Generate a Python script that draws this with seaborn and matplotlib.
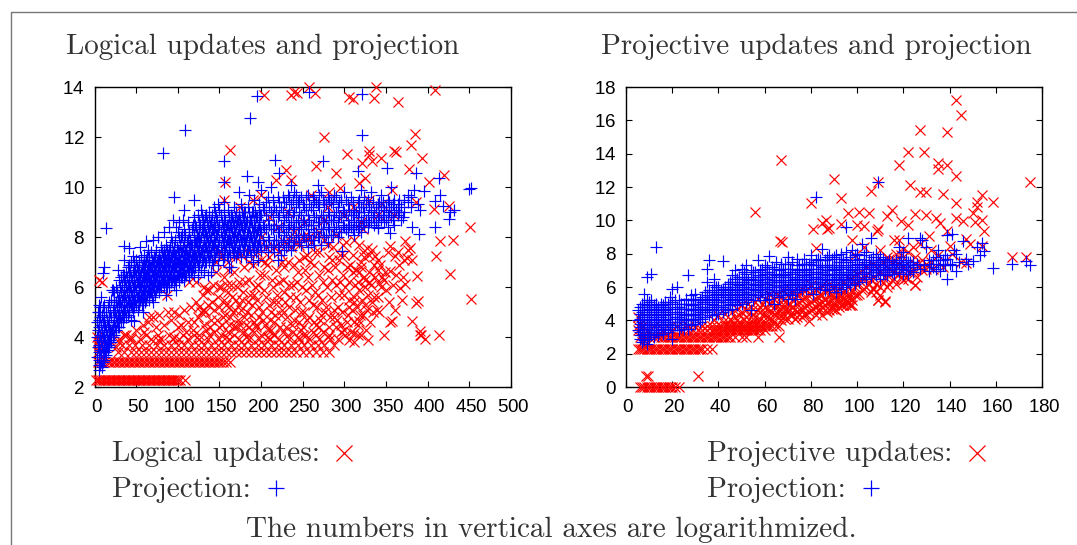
import seaborn as sns
import numpy as np
import pandas as pd
import matplotlib.pyplot as plt
from matplotlib.lines import Line2D
from matplotlib.transforms import ScaledTranslation

# update counts are multiples of ten, so the low red marks sit on rows (log of the count)
logical_row_230 = [2,4,6,8,10,12,14,16,18,20,22,24,26,28,30,32,34,36,38,40,42,44,46,48,50,52,54,56,58,60,62,64,66,68,70,72,74,76,78,80,82,84,86,88,90,92,94,96,98,100,103,109]
logical_row_300 = [4,8,12,16,19,22,25,28,31,34,37,40,43,46,49,52,55,58,61,64,67,70,73,76,79,82,85,88,91,94,97,100,103,106,109,112,115,118,121,124,127,130,133,136,139,142,145,148,151,154,158,163]
logical_row_340 = [4,28,36,44,50,56,62,68,74,80,86,92,98,104,110,116,122,128,134,140,146,152,158,164,170,176,182,188,194,200,206,212,218,224,230,236,242,250,258,266,274,281]
logical_row_369 = [5,33,41,49,57,66,75,84,92,100,108,116,124,132,140,148,156,164,172,180,188,196,204,212,220,228,236,244,252,260,268,276,287]
logical_row_391 = [6,30,44,55,68,80,94,102,112,125,136,150,162,174,186,198,210,222,234,246,258,270,283,292]
logical_row_409 = [38,62,76,90,106,120,138,152,168,184,200,216,232,250,266,282,301,348,391,413]

logical_cloud = [(50,4.3),(58,4.5),(64,4.6),(70,4.8),(74,4.4),(78,4.9),(84,4.5),(88,5.0),(92,4.7),(96,5.0),(102,4.9),(108,5.1),
    (100,4.4),(112,4.6),(116,5.2),(118,4.3),(122,5.4),(124,4.8),(128,5.0),(130,5.7),(132,4.5),(136,5.3),(138,5.9),(140,4.7),
    (142,6.1),(144,5.1),(148,5.6),(150,4.4),(152,6.0),(154,4.8),(156,6.4),(158,5.3),(160,5.8),(162,4.5),(164,6.1),(166,5.0),
    (168,6.6),(170,5.5),(172,4.7),(174,6.2),(176,5.1),(178,5.8),(180,6.8),(182,4.5),(184,5.4),(186,6.3),(188,4.9),(190,6.9),
    (192,5.7),(194,4.4),(196,6.1),(198,5.2),(200,7.1),(202,4.7),(204,6.5),(206,5.6),(208,4.3),(210,7.2),(212,5.0),(214,6.0),
    (216,4.6),(218,6.7),(220,5.4),(222,7.4),(224,4.9),(226,6.3),(228,5.8),(230,4.4),(232,7.0),(234,5.2),(236,7.6),(238,6.1),
    (240,4.7),(242,5.6),(244,6.6),(246,7.7),(248,5.0),(250,4.4),(252,7.2),(254,5.9),(256,6.4),(258,4.8),(260,7.8),(262,5.3),
    (264,6.9),(266,4.5),(268,5.7),(270,7.4),(272,4.9),(274,6.2),(276,7.9),(278,5.2),(280,6.7),(282,4.4),(284,5.6),(286,7.6),
    (288,4.8),(290,6.1),(292,5.2),(294,7.1),(296,4.5),(298,6.5),(300,5.7),(302,7.8),(304,4.9),(306,6.2),(308,4.2),(310,7.3),
    (312,5.4),(314,6.7),(316,4.5),(318,5.9),(320,7.0),(322,4.9),(324,6.4),(326,4.3),(328,5.7),(330,7.3),(332,6.1),(334,5.0),
    (76,3.9),(96,4.0),(110,4.2),(126,4.1),(144,4.2),(160,4.2),(178,4.2),(192,4.2),(208,4.0),(226,4.2),(244,4.0),(262,4.2),(280,4.0),(296,4.2),
    (104,4.5),(134,4.3),(170,4.4),(194,4.5),(212,4.3),(248,4.3),(270,4.4),(290,4.4),(305,3.9),(312,3.8),(320,4.1),(328,3.9),
    (205,7.0),(225,7.0),(245,7.1),(255,7.3),(265,7.4),(285,7.1),(295,7.3),(303,6.8),(310,6.6),(325,6.0),(335,5.6),(340,6.7),(345,6.4),(350,5.9),
    (150,6.0),(146,7.0),(151,7.2),(160,7.0),(170,7.2),(185,7.0),(195,7.4),(215,7.6),(235,7.9),(250,8.0),(270,8.2),(290,8.1),(312,7.9),(322,8.3),
    (122,6.2),(131,5.1),(160,6.7),(185,7.4),(200,8.0),(220,8.4),(240,8.2),(210,8.8),(232,9.0),(252,8.6),(275,8.7),(300,8.9),(320,8.6),(340,8.9),(360,8.9),(345,9.3),(330,9.5),(310,9.2),
    (155,9.5),(157,10.2),(163,11.5),(203,13.7),(236,13.7),(240,13.8),(218,10.3),(230,10.7),(236,10.3),(175,9.2),(190,9.5),(200,9.7),(260,9.7),(282,9.8),(280,9.2),
    (65,4.8),(87,5.7),(113,6.2),(131,6.0),(134,5.9),(146,6.6),(6,6.3),(9,6.2),(3,4.0),(4,3.8),(5,3.6),(30,3.8),(36,4.1),(26,3.6),(44,4.0),(60,4.2),
    (258,13.99),(265,13.76),(338,14.0),(409,13.89),(306,13.59),(310,13.53),(336,13.56),(364,13.4),(243,13.76),(276,12.0),(385,12.13),(380,11.7),(303,11.33),
    (330,11.45),(330,11.3),(359,11.45),(362,11.4),(344,11.16),(393,11.16),(333,11.03),(321,10.96),(266,10.83),(377,10.73),(290,10.56),(419,10.49),(325,10.36),
    (317,10.16),(401,10.2),(295,9.96),(357,9.9),(386,9.39),(408,9.12),(426,9.23),(451,8.41),(415,7.83),(430,7.87),(410,7.24),(427,6.53),(452,5.53),(387,6.43),
    (341,6.16),(373,6.13),(367,5.96),(340,5.6),(388,5.43),(386,5.36),(369,5.49),(361,5.09),(342,5.0),(381,4.63),(355,4.6),(357,4.65),(391,4.23),(392,4.09),
    (397,3.92),(325,5.27),(318,4.63),(311,4.16),(373,7.83),(355,7.63),(379,7.56),(361,7.23),(375,7.16),(381,7.09),(317,7.69),(327,7.56),(337,7.23),(343,6.89),
    (355,6.63),(333,7.5),(340,7.1),(347,6.3),(352,7.4),(376,7.5),(371,7.1),(322,7.4),(335,6.9),(330,6.6),(325,6.3),(320,6.8),(316,6.2),(312,5.6),(306,5.2)]

# second pass over the dense parts of the red cloud
logical_cloud_more = [(120,4.6),(126,5.2),(133,5.0),(139,4.4),(141,5.4),(147,4.7),(149,5.2),(153,4.5),(155,5.5),(157,4.9),(159,6.1),(161,5.2),(163,4.8),(165,5.6),(167,4.4),(169,5.1),(171,6.0),
    (173,5.3),(175,4.5),(177,5.5),(179,4.8),(181,6.2),(183,5.0),(185,4.4),(187,5.7),(189,5.3),(191,4.6),(193,6.0),(195,5.5),(197,4.8),(199,6.5),(201,5.0),(203,5.9),(205,4.5),(207,6.9),(209,5.3),
    (211,4.7),(213,6.3),(215,5.4),(217,4.9),(219,5.7),(221,6.2),(223,4.4),(225,5.1),(227,6.8),(229,5.4),(231,4.8),(233,6.1),(235,5.6),(237,4.5),(239,6.9),(241,5.1),(243,6.2),(245,4.6),(247,5.4),
    (249,6.0),(251,5.0),(253,6.7),(255,4.7),(257,5.5),(259,7.0),(261,6.1),(263,4.6),(265,5.8),(267,5.2),(269,6.5),(271,4.7),(273,5.5),(275,6.8),(277,5.0),(279,6.0),(281,7.2),(283,4.8),(285,6.3),
    (287,5.1),(289,6.8),(291,4.7),(293,5.7),(295,6.2),(297,5.0),(299,7.3),(301,6.0),(303,4.6),(305,5.5),(307,6.9),(309,5.1),(311,4.6),(313,6.1),(315,5.2),(317,6.6),(319,4.9),(321,5.5),(323,7.2),
    (327,5.1),(329,6.2),(331,4.6),(333,5.4),(337,6.4),(339,5.1),(344,6.0),(349,6.6),(353,5.4),(358,6.1),(362,6.5),(366,6.9),(370,6.4),(364,7.4),(158,4.0),(182,4.0),(216,4.1),(238,4.2),(254,4.1),(274,4.2),(300,4.3),(316,4.1),(150,7.4),(176,7.3),(206,7.6),(228,7.8),(244,7.8),(258,8.0),(280,7.7),(298,7.7)]

logical_proj = [(3,3.2),(3,4.0),(3,4.6),(4,3.6),(4,4.3),(4,5.0),(5,2.9),(5,3.4),(5,3.9),(5,4.7),(5,5.3),(6,2.7),(6,3.1),(6,3.7),(6,4.4),(6,5.0),
    (7,2.9),(7,3.5),(7,4.1),(7,4.8),(7,5.2),(8,3.0),(8,3.3),(8,3.9),(8,4.5),(8,5.6),(9,2.8),(9,3.6),(9,4.2),(9,4.9),(10,3.0),(10,3.4),(10,4.0),(10,4.6),(10,5.2),
    (11,3.2),(11,3.8),(11,4.4),(12,3.1),(12,3.5),(12,4.1),(12,4.8),(12,5.3),(13,3.4),(13,3.9),(13,4.5),(14,3.3),(14,3.7),(14,4.3),(14,5.0),(15,3.6),(15,4.1),(15,4.7),
    (16,3.5),(16,3.9),(16,4.5),(16,5.2),(17,3.7),(17,4.2),(17,4.8),(18,3.6),(18,4.0),(18,4.6),(18,5.4),(19,3.9),(19,4.3),(19,5.0),(20,3.8),(20,4.2),(20,4.8),(20,5.5),
    (21,5.9),(22,4.0),(22,4.5),(22,5.1),(22,5.9),(24,4.1),(24,4.6),(24,5.3),(24,5.8),(26,4.3),(26,4.8),(26,5.4),(26,6.0),(28,4.4),(28,4.9),(28,5.5),(28,6.7),(30,4.4),
    (30,5.0),(30,5.6),(30,6.3),(32,4.6),(32,5.2),(32,5.8),(32,6.4),(34,4.6),(34,5.1),(34,5.7),(34,6.5),(35,7.1),(36,4.8),(36,5.3),(36,5.9),(36,6.5),(36,7.65),(38,4.8),
    (38,5.4),(38,6.0),(38,6.6),(40,4.9),(40,5.5),(40,6.1),(40,6.8),(41,7.55),(42,5.1),(42,5.6),(42,6.2),(42,6.9),(44,4.7),(44,5.3),(44,5.8),(44,6.4),(44,7.0),(46,5.0),
    (46,5.5),(46,6.0),(46,6.6),(46,7.25),(48,4.65),(48,5.2),(48,5.7),(48,6.3),(48,6.9),(50,5.3),(50,5.9),(50,6.5),(50,7.1),(52,5.1),(52,5.6),(52,6.2),(52,6.7),(54,5.4),
    (54,5.9),(54,6.4),(54,7.0),(55,7.6),(56,5.6),(56,6.1),(56,6.6),(56,7.2),(58,5.0),(58,5.4),(58,5.9),(58,6.4),(58,6.9),(60,5.7),(60,6.2),(60,6.7),(60,7.3),(62,5.5),
    (62,6.0),(62,6.5),(62,7.1),(62,7.85),(64,5.9),(64,6.4),(64,6.9),(64,7.5),(66,5.6),(66,6.1),(66,6.6),(66,7.2),(68,5.8),(68,6.3),(68,6.8),(68,7.4),(70,5.4),(70,6.0),
    (70,6.5),(70,7.0),(70,7.9),(72,6.2),(72,6.7),(72,7.2),(74,5.9),(74,6.4),(74,6.9),(74,7.5),(76,6.1),(76,6.6),(76,7.1),(76,8.0),(78,5.9),(78,6.3),(78,6.8),(78,7.3),
    (80,6.0),(80,6.5),(80,7.0),(80,7.6),(82,6.2),(82,6.7),(82,7.2),(84,6.4),(84,6.9),(84,7.4),(84,8.2),(86,5.7),(86,6.1),(86,6.6),(86,7.1),(86,7.7),(88,6.3),(88,6.8),
    (88,7.3),(90,6.0),(90,6.5),(90,7.0),(90,7.5),(90,8.4),(92,6.2),(92,6.7),(92,7.2),(92,8.0),(94,6.4),(94,6.9),(94,7.4),(94,8.7),(96,6.1),(96,6.6),(96,7.1),(96,7.6),
    (98,5.9),(98,6.3),(98,6.8),(98,7.3),(98,8.4),(100,6.5),(100,7.0),(100,7.5),(100,8.2),(102,6.2),(102,6.7),(102,7.2),(102,8.6),(104,6.4),(104,6.9),(104,7.4),(104,8.0),
    (106,6.6),(106,7.1),(106,7.6),(106,8.7),(108,6.3),(108,6.8),(108,7.3),(108,8.3),(110,6.5),(110,7.0),(110,7.5),(112,6.7),(112,7.2),(112,7.9),(112,8.6),(114,6.4),(114,6.9),
    (114,7.4),(114,8.2),(116,6.6),(116,7.1),(116,7.7),(118,6.8),(118,7.3),(118,8.5),(120,6.5),(120,7.0),(120,7.6),(120,8.1),(120,8.8),(122,7.2),(122,7.8),(122,8.4),(124,6.4),(124,6.9),
    (124,7.5),(124,8.0),(124,8.9),(126,7.2),(126,7.7),(126,8.3),(128,6.7),(128,7.4),(128,8.0),(128,9.1),(130,7.1),(130,7.6),(130,8.2),(130,8.7),(132,6.6),(132,7.3),(132,7.9),(132,8.5),
    (134,7.0),(134,7.6),(134,8.1),(134,8.9),(136,6.5),(136,7.3),(136,7.8),(136,8.4),(138,7.1),(138,7.6),(138,8.2),(138,9.0),(140,6.6),(140,7.4),(140,8.0),(140,8.6),(142,6.9),(142,7.7),
    (142,8.3),(144,7.2),(144,7.8),(144,8.5),(144,9.2),(146,7.5),(146,8.1),(146,8.8),(148,6.9),(148,7.7),(148,8.3),(148,9.3),(150,7.3),(150,7.9),(150,8.5),(152,7.6),(152,8.2),(152,8.9),
    (154,7.1),(154,7.8),(154,8.4),(156,7.4),(156,8.0),(156,8.7),(156,9.4),(158,7.7),(158,8.3),(160,7.2),(160,7.9),(160,8.5),(160,9.1),(162,6.8),(162,7.5),(162,8.1),(164,6.8),(164,7.8),
    (164,8.4),(164,8.9),(166,7.4),(166,8.0),(166,8.6),(168,7.6),(168,8.2),(168,9.2),(170,7.2),(170,7.9),(170,8.5),(170,9.0),(172,7.4),(172,8.1),(172,8.7),(174,7.7),(174,8.3),(174,9.8),
    (176,7.2),(176,7.9),(176,8.5),(176,9.3),(178,7.5),(178,8.1),(178,8.8),(180,7.7),(180,8.3),(180,9.0),(182,7.2),(182,7.9),(182,8.6),(184,7.5),(184,8.2),(184,9.2),(186,7.7),(186,8.4),
    (186,9.7),(188,7.3),(188,8.0),(188,8.7),(190,7.0),(190,7.6),(190,8.2),(190,9.0),(192,7.8),(192,8.5),(192,9.5),(194,7.4),(194,8.1),(194,8.8),(196,7.1),(196,7.7),(196,8.3),(196,10.2),
    (198,7.9),(198,8.6),(198,9.3),(200,7.5),(200,8.2),(200,8.9),(200,9.9),(204,7.7),(204,8.4),(204,9.1),(208,7.4),(208,8.0),(208,8.7),(208,9.6),(212,7.6),(212,8.3),(212,9.0),(212,10.0),
    (216,7.4),(216,7.9),(216,8.5),(216,9.2),(220,7.1),(220,7.7),(220,8.2),(220,8.8),(220,9.6),(224,7.3),(224,7.9),(224,8.5),(224,9.2),(228,7.5),(228,8.1),(228,8.7),(228,9.4),(232,7.7),
    (232,8.3),(232,8.9),(232,9.7),(236,7.5),(236,8.0),(236,8.6),(236,9.3),(236,10.1),(240,7.8),(240,8.4),(240,9.0),(240,9.8),(244,8.1),(244,8.7),(244,9.4),(248,7.7),(248,8.3),(248,8.9),
    (248,9.6),(252,8.0),(252,8.6),(252,9.2),(256,7.6),(256,8.3),(256,8.9),(256,9.7),(260,7.9),(260,8.5),(260,9.2),(264,7.7),(264,8.2),(264,8.8),(264,9.5),(268,8.0),(268,8.6),(268,9.3),
    (268,10.1),(272,7.7),(272,8.3),(272,8.9),(272,9.8),(276,8.0),(276,8.6),(276,9.3),(280,7.8),(280,8.4),(280,9.0),(280,9.6),(284,8.1),(284,8.7),(284,9.4),(288,8.3),(288,8.9),(288,9.7),
    (292,8.0),(292,8.6),(292,9.2),(296,8.2),(296,8.8),(296,9.5),(300,8.4),(300,9.0),(300,9.8),(304,8.2),(304,8.7),(304,9.3),(308,8.4),(308,8.9),(308,9.6),(312,8.1),(312,8.6),(312,9.1),
    (316,8.3),(316,8.8),(316,9.4),(320,8.2),(320,8.7),(320,9.2),(320,9.9),(324,8.5),(324,9.0),(324,9.6),(328,8.4),(328,8.9),(328,9.5),(332,8.6),(332,9.1),(332,9.8),(336,8.5),(336,9.0),
    (340,8.4),(340,8.8),(340,9.3),(344,8.7),(344,9.2),(344,9.7),(348,8.6),(348,9.1),(352,8.4),(352,8.9),(352,9.5),(356,8.8),(356,9.2),(356,10.0),(360,8.5),(360,9.0),(360,9.5),(364,8.9),
    (364,9.3),(368,8.7),(368,9.2),(372,9.0),(372,9.5),(376,9.4),(376,9.7),(380,9.2),(380,9.6),(384,9.9),(388,9.3),(391,9.1),(195,13.63),(187,12.75),(109,12.28),(82,11.36),(155,11.05),
    (217,11.08),(221,10.56),(183,10.45),(155,10.19),(95,9.59),(120,9.48),(107,9.1),(258,13.8),(321,13.72),(321,12.08),(274,11.05),(351,10.76),(316,10.65),(386,10.55),(413,10.36),(452,9.96),
    (450,9.93),(396,9.83),(415,9.7),(409,9.45),(431,9.1),(426,8.73),(409,8.39),(390,8.12),(381,8.39),(355,8.16),(340,8.36),(297,7.45),(14,8.37),(12,6.8),(10,6.56),(418,9.25),(427,9.0)]

# second pass over the dense parts of the blue band
logical_proj_more = [(21,4.3),(23,4.8),(23,5.5),(25,4.4),(25,5.0),(27,4.6),(27,5.2),(27,5.8),(29,4.7),(29,5.3),(31,4.8),(31,5.4),(31,6.0),(33,4.9),(33,5.5),(33,6.1),(35,5.0),(35,5.6),(35,6.2),(37,5.1),(37,5.7),(37,6.3),
    (39,5.2),(39,5.8),(39,6.4),(41,5.0),(41,5.3),(41,5.9),(41,6.5),(43,5.4),(43,6.0),(43,6.6),(45,5.2),(45,5.7),(45,6.3),(47,5.4),(47,5.9),(47,6.5),(47,7.0),(49,5.5),(49,6.1),(49,6.7),(51,5.6),(51,6.2),(51,6.8),
    (53,5.3),(53,5.8),(53,6.3),(53,6.9),(55,5.5),(55,6.0),(55,6.5),(57,5.3),(57,5.7),(57,6.2),(57,6.8),(59,5.6),(59,6.1),(59,6.6),(59,7.1),(61,5.4),(61,5.9),(61,6.4),(61,6.9),(63,5.7),(63,6.2),(63,6.7),(63,7.2),
    (65,5.5),(65,6.0),(65,6.5),(65,7.0),(67,5.8),(67,6.3),(67,6.8),(69,5.6),(69,6.1),(69,6.6),(69,7.1),(71,5.9),(71,6.4),(71,6.9),(73,5.7),(73,6.2),(73,6.7),(73,7.2),(75,6.0),(75,6.5),(75,7.0),(77,5.8),(77,6.3),
    (77,6.8),(77,7.3),(79,6.1),(79,6.6),(79,7.1),(81,6.3),(81,6.8),(81,7.4),(83,6.0),(83,6.5),(83,7.0),(83,7.5),(85,6.3),(85,6.8),(85,7.3),(87,6.0),(87,6.5),(87,7.0),(87,7.5),(89,6.3),(89,6.8),(89,7.3),(91,6.5),
    (91,7.0),(91,7.6),(93,6.3),(93,6.8),(93,7.3),(93,7.8),(95,6.5),(95,7.0),(95,7.5),(97,6.3),(97,6.8),(97,7.3),(97,7.9),(99,6.5),(99,7.0),(99,7.6),(101,6.4),(101,6.9),(101,7.4),(101,8.0),(103,6.6),(103,7.1),(103,7.7),
    (105,6.4),(105,6.9),(105,7.4),(105,8.1),(107,6.7),(107,7.2),(107,7.8),(109,6.5),(109,7.0),(109,7.5),(109,8.1),(111,6.8),(111,7.3),(111,7.8),(113,6.6),(113,7.1),(113,7.6),(113,8.2),(115,6.9),(115,7.4),(115,7.9),
    (117,6.7),(117,7.2),(117,7.7),(117,8.3),(119,7.0),(119,7.5),(119,8.0),(121,6.8),(121,7.3),(121,7.8),(121,8.5),(123,7.1),(123,7.6),(123,8.1),(125,6.9),(125,7.4),(125,7.9),(125,8.6),(127,7.2),(127,7.8),(127,8.5),
    (129,7.0),(129,7.5),(129,8.3),(129,8.9),(131,7.3),(131,7.9),(131,8.5),(133,7.0),(133,7.6),(133,8.2),(133,8.8),(135,7.4),(135,8.0),(135,8.6),(137,7.0),(137,7.6),(137,8.2),(137,8.8),(139,7.3),(139,7.9),(139,8.5),
    (141,7.1),(141,7.7),(141,8.3),(141,8.9),(143,7.4),(143,8.0),(143,8.6),(145,7.2),(145,7.8),(145,8.4),(145,9.0),(147,7.5),(147,8.1),(147,8.7),(149,7.3),(149,7.9),(149,8.5),(149,9.1),(153,7.4),(153,8.0),(153,8.6),
    (155,7.2),(155,7.8),(155,8.4),(155,9.0),(157,7.5),(157,8.1),(157,8.7),(159,7.3),(159,7.9),(159,8.5),(161,7.6),(161,8.2),(161,8.8),(163,7.3),(163,7.9),(163,8.5),(165,7.6),(165,8.2),(165,8.8),(167,7.3),(167,7.9),
    (167,8.5),(169,7.6),(169,8.2),(169,8.8),(171,7.4),(171,8.0),(171,8.6),(173,7.7),(173,8.3),(173,8.9),(175,7.5),(175,8.1),(175,8.7),(177,7.8),(177,8.4),(177,9.0),(179,7.5),(179,8.1),(179,8.7),(181,7.8),(181,8.4),
    (181,9.0),(183,7.5),(183,8.1),(183,8.7),(185,7.8),(185,8.4),(185,9.0),(187,7.5),(187,8.1),(187,8.7),(189,7.8),(189,8.4),(189,9.0),(191,7.5),(191,8.1),(191,8.7),(193,7.8),(193,8.4),(193,9.0),(195,7.6),(195,8.2),
    (195,8.8),(197,7.9),(197,8.5),(197,9.1),(199,7.7),(199,8.3),(199,8.9),(202,7.9),(202,8.5),(202,9.2),(206,7.7),(206,8.3),(206,8.9),(206,9.4),(210,7.9),(210,8.5),(210,9.2),(214,7.7),(214,8.3),(214,8.9),(214,9.5),
    (218,7.9),(218,8.5),(218,9.1),(222,7.6),(222,8.2),(222,8.9),(222,9.4),(226,7.8),(226,8.4),(226,9.0),(226,9.6),(230,7.6),(230,8.2),(230,8.8),(230,9.4),(234,7.9),(234,8.5),(234,9.1),(234,9.6),(238,7.7),(238,8.3),
    (238,8.9),(238,9.5),(242,8.0),(242,8.6),(242,9.2),(242,9.7),(246,7.8),(246,8.4),(246,9.0),(246,9.5),(250,8.1),(250,8.7),(250,9.3),(254,7.9),(254,8.5),(254,9.1),(254,9.6),(258,8.1),(258,8.7),(258,9.3),(262,7.9),
    (262,8.5),(262,9.1),(262,9.6),(266,8.2),(266,8.8),(266,9.4),(270,8.0),(270,8.6),(270,9.2),(270,9.7),(274,8.3),(274,8.9),(274,9.5),(278,8.1),(278,8.7),(278,9.3),(282,8.3),(282,8.9),(282,9.5),(286,8.1),(286,8.7),
    (286,9.3),(290,8.4),(290,9.0),(290,9.6),(294,8.2),(294,8.8),(294,9.4),(298,8.5),(298,9.1),(302,8.3),(302,8.9),(302,9.5),(306,8.5),(306,9.1),(310,8.3),(310,8.9),(310,9.4),(314,8.5),(314,9.0),(318,8.4),(318,9.0),(318,9.5),
    (322,8.6),(322,9.2),(326,8.7),(326,9.3),(330,8.6),(330,9.2),(334,8.8),(334,9.4),(338,8.6),(338,9.2),(342,8.9),(342,9.4),(346,8.9),(346,9.4),(350,8.7),(350,9.2),(354,9.0),(354,9.4),(358,8.7),(358,9.3),(362,9.1),(366,9.0),(366,9.5),(370,8.8)]

projective_row_0 = [6,7,8,9,10,11,12,13,14,15,16,17,18,19,20,21,23]
projective_row_069 = [8.5,9.5,31]
projective_row_230 = [5,6,7,8,9,10,11,12,13,14,15,16,17,18,19,20,21,22,23,24,25,26,27,28,29,30,31,32,33,35,37]
projective_row_300 = [6,8,10,12,14,15,16,17,18,19,20,21,22,23,24,25,26,27,28,29,30,31,32,33,34,35,36,37,38,39,40,41,42,43,44,45,47,50,52,57]
projective_row_340 = [5,9,16,20,24,27,29,31,33,35,37,38,39,40,41,42,43,44,45,46,47,48,49,50,51,52,53,54,55,56,57,58,60]
projective_row_369 = [5,7,12,22,27,30,33,35,37,39,41,43,44,45,46,47,48,49,50,51,52,53,54,55,56,57,58,59,60,61,62,63,65,66]

projective_cloud = [(5,4.2),(6,3.8),(7,2.7),(9,2.6),(38,4.0),(40,4.3),(42,3.9),(43,4.4),(45,4.1),(46,4.5),(48,4.0),(48,4.7),(49,4.3),(50,4.9),(51,4.1),(52,4.6),(53,5.0),(54,4.2),
    (54,4.8),(55,3.9),(55,4.4),(56,5.1),(57,4.6),(57,5.3),(58,4.1),(58,4.8),(59,5.0),(60,3.9),(60,4.4),(60,5.3),(61,4.7),(62,4.1),(62,5.0),(62,5.6),(63,4.5),(64,3.9),(64,4.8),(64,5.3),
    (65,4.3),(65,5.6),(66,4.6),(66,5.0),(66,3.0),(67,4.0),(67,5.4),(68,4.4),(68,4.8),(68,5.8),(69,4.1),(69,5.1),(70,4.6),(70,5.5),(71,4.3),(71,5.0),(72,4.8),(72,5.7),(73,4.1),(73,5.3),
    (74,4.5),(74,5.0),(75,5.5),(75,4.7),(76,4.2),(76,5.2),(76,5.9),(77,4.8),(78,4.4),(78,5.4),(79,3.95),(79,5.0),(80,4.6),(80,5.6),(80,6.1),(81,5.2),(82,4.3),(82,4.8),(82,5.8),(83,5.4),
    (84,5.0),(84,6.0),(85,4.3),(85,5.5),(86,4.9),(86,5.2),(87,5.8),(87,4.5),(88,5.1),(88,6.2),(89,4.7),(89,5.6),(90,5.0),(90,4.9),(90,5.4),(90,6.0),(91,5.7),(91,4.6),(92,5.2),(92,5.9),(93,4.9),(93,5.5),
    (94,5.3),(94,4.9),(95,5.7),(95,5.1),(96,5.4),(96,6.0),(97,4.9),(97,5.6),(98,5.2),(98,5.8),(100,5.5),(100,6.2),(102,5.8),(102,6.5),(104,6.0),(104,6.7),(106,5.7),(106,6.4),(107,5.9),(108,6.2),
    (109,5.2),(110,6.0),(110,6.9),(112,5.1),(112,6.6),(114,6.2),(114,7.1),(116,6.5),(118,6.8),(118,7.4),(120,6.4),(120,7.2),(121,6.54),(123,6.9),(125,6.1),(125,7.4),(128,7.0),(132,7.5),(135,7.9),(137,7.2),
    (67,13.6),(56,10.48),(67.4,8.68),(66.7,8.74),(80,11.04),(81,9.48),(85,9.84),(86.6,10.0),(87,9.48),(90,12.5),(82,8.34),(143,17.2),(145,16.3),(127,15.4),(139,15.3),(122,14.08),(129,14.1),
    (118,13.3),(135,13.44),(139,13.3),(135,13.06),(143,12.68),(109,12.3),(175,12.3),(123,12.1),(106,11.74),(127,11.7),(130,11.7),(137,11.6),(93,11.34),(154,11.5),(152,11.1),(143,11.04),(159,11.12),
    (152,10.78),(150,10.44),(96,10.46),(101,10.52),(105,10.46),(115,10.6),(113,10.28),(125,10.36),(130,10.34),(134,10.14),(143,10.14),(146,9.94),(154,10.04),(119,9.98),(136,9.84),(93,9.8),(100,9.74),
    (103,9.64),(122,9.7),(109,9.5),(155,9.34),(139,9.38),(108.5,9.34),(88,9.54),(131,9.04),(98,8.84),(116,8.84),(118,8.84),(140,8.44),(154,8.44),(167,7.78),(173,7.78),(147,7.44),(125,6.1),(109,5.24),
    (112,5.14),(107,5.94),(97,4.94),(94,4.94),(99,7.9),(103,8.4),(110,8.2),(114,7.7),(117,8.0),(120,8.3),(125,7.8),(130,7.4),(133,7.1),(128,7.6),(141,8.0),(145,7.5),(147,8.9),(149,8.6),(151,9.9)]

# second pass over the dense parts of the red wedge
projective_cloud_more = [(44,3.9),(47,4.2),(49,3.9),(50,4.5),(52,4.2),(53,3.8),(55,4.7),(56,4.2),(57,3.9),(58,4.5),(59,4.3),(60,4.8),(61,4.2),(62,4.5),(63,4.1),(63,5.1),(64,4.4),(65,4.9),(66,4.3),(67,4.7),(67,5.1),
    (68,4.2),(69,4.6),(70,4.1),(70,5.0),(71,4.6),(72,4.3),(72,5.2),(73,4.7),(74,4.2),(74,5.5),(75,4.4),(75,5.1),(76,4.7),(77,4.4),(77,5.4),(78,4.9),(78,5.8),(79,4.5),(80,5.1),(81,4.7),(81,5.7),(82,5.3),(83,4.6),(83,5.0),
    (84,4.7),(84,5.6),(85,5.1),(86,4.6),(86,5.7),(87,5.1),(88,4.6),(88,5.6),(89,5.2),(90,4.7),(91,5.2),(92,4.8),(92,5.5),(93,5.2),(94,5.7),(95,4.9),(96,5.1),(97,5.4),(98,4.9),(99,5.5),(99,6.0),(101,5.6),(101,6.4),(103,5.9),(103,6.6),
    (105,6.2),(107,6.6),(108,5.7),(110,5.5),(111,6.3),(113,6.0),(115,6.4),(116,6.9),(117,6.2),(119,6.6),(122,6.5),(124,7.0),(126,6.6),(127,7.2),(130,7.1),(94,6.3),(97,6.5),(100,6.8),(104,7.2),(107,7.4),(111,7.5),(113,7.8),(116,7.6),(119,7.9),(122,8.1),(124,8.4),(127,8.6),(132,8.2)]

projective_proj = [(5,3.4),(5,4.0),(5,4.6),(6,2.9),(6,3.3),(6,3.8),(6,4.4),(7,2.7),(7,3.1),(7,3.6),(7,4.2),(7,4.8),(8,2.8),(8,3.2),(8,3.7),(8,4.3),(8,5.0),(8,5.6),(9,2.6),(9,3.0),(9,3.5),(9,4.0),
    (9,4.6),(9,5.2),(9,6.6),(10,2.9),(10,3.3),(10,3.8),(10,4.4),(10,5.1),(11,3.1),(11,3.6),(11,4.2),(11,4.8),(11,5.2),(11,6.8),(12,3.0),(12,3.4),(12,4.0),(12,4.6),(13,3.3),(13,3.8),(13,4.4),(13,5.0),
    (13,8.38),(14,3.1),(14,3.6),(14,4.2),(14,4.8),(15,3.4),(15,3.9),(15,4.5),(15,5.0),(16,3.2),(16,3.7),(16,4.3),(16,4.9),(17,3.5),(17,4.0),(17,4.6),(17,5.1),(18,3.3),(18,3.8),(18,4.4),(18,5.0),(19,3.6),
    (19,4.1),(19,4.7),(19,5.4),(20,2.9),(20,3.4),(20,3.9),(20,4.5),(20,5.1),(20,5.9),(22,3.7),(22,4.2),(22,4.8),(22,6.0),(23,3.4),(23,3.9),(23,4.5),(23,5.2),(24,3.6),(24,4.1),(24,4.7),(25,3.5),(25,4.3),
    (25,5.0),(26,3.8),(26,4.4),(26,5.3),(27,3.5),(27,4.1),(27,4.7),(27,6.7),(28,3.7),(28,4.3),(28,4.9),(28,5.5),(29,4.0),(29,4.6),(29,5.2),(30,3.8),(30,4.3),(30,5.0),(30,5.6),(31,4.1),(31,4.7),(32,3.9),
    (32,4.5),(32,5.2),(33,4.1),(33,4.8),(33,5.4),(34,4.2),(34,5.0),(34,5.7),(35,4.5),(35,5.2),(35,6.3),(35,7.1),(36,4.7),(36,5.5),(36,7.65),(37,4.3),(37,5.0),(37,5.8),(38,4.6),(38,5.3),(38,6.1),(38,6.5),
    (39,4.9),(39,5.6),(40,4.4),(40,5.2),(40,6.0),(41,4.8),(41,5.5),(42,4.5),(42,5.1),(42,5.9),(42,7.55),(43,5.4),(43,6.0),(44,4.6),(44,5.2),(44,5.8),(45,5.0),(45,5.6),(45,6.3),(46,4.7),(46,5.3),(46,6.0),
    (46,6.7),(47,5.1),(47,5.7),(47,7.0),(48,4.9),(48,5.5),(48,6.2),(49,5.2),(49,5.8),(49,6.6),(50,5.0),(50,5.6),(50,6.3),(50,7.1),(51,5.4),(51,6.0),(52,5.1),(52,5.7),(52,6.5),(52,7.35),(53,5.3),(53,5.9),
    (53,6.4),(54,4.6),(54,5.6),(54,6.2),(54,7.0),(55,5.2),(55,5.9),(55,6.6),(56,5.5),(56,6.1),(56,6.9),(57,5.8),(57,6.4),(57,7.6),(58,5.4),(58,6.0),(58,6.7),(59,5.7),(59,6.3),(59,7.1),(60,5.2),(60,5.9),
    (60,6.5),(60,7.3),(61,5.6),(61,6.2),(61,6.9),(62,5.3),(62,6.0),(62,6.6),(62,7.85),(63,5.7),(63,6.3),(63,7.2),(64,5.0),(64,5.5),(64,6.1),(64,6.8),(65,5.8),(65,6.4),(65,7.5),(66,5.4),(66,6.0),(66,6.7),
    (67,5.7),(67,6.3),(67,7.1),(68,5.5),(68,6.1),(68,6.8),(69,5.8),(69,6.4),(69,7.4),(70,5.3),(70,5.9),(70,6.6),(70,7.8),(71,5.7),(71,6.3),(71,7.1),(72,5.5),(72,6.1),(72,6.8),(72,7.5),(73,5.9),(73,6.5),
    (73,5.3),(74,5.7),(74,6.2),(74,7.0),(74,7.7),(75,6.0),(75,6.6),(75,7.3),(76,5.8),(76,6.4),(76,7.1),(77,6.1),(77,6.7),(77,7.7),(78,5.9),(78,6.4),(78,7.0),(79,6.2),(79,6.8),(79,7.4),(80,6.0),(80,6.6),
    (80,7.9),(81,5.6),(81,6.3),(81,7.1),(82,5.9),(82,6.5),(82,7.6),(82,11.38),(83,6.2),(83,6.8),(84,6.0),(84,6.6),(84,7.3),(85,6.3),(85,6.9),(85,8.3),(86,5.8),(86,6.5),(86,7.6),(87,6.1),(87,6.7),(87,7.2),
    (88,5.9),(88,6.4),(88,7.0),(88,7.9),(89,6.2),(89,6.8),(90,6.0),(90,6.5),(90,7.3),(90,7.8),(91,5.7),(91,6.3),(91,7.0),(92,6.1),(92,6.6),(92,7.5),(93,5.9),(93,6.4),(93,7.2),(94,6.2),(94,6.8),(94,7.7),
    (95,6.0),(95,6.5),(95,7.3),(95,9.58),(96,6.3),(96,6.9),(97,6.1),(97,6.6),(97,7.5),(98,6.4),(98,7.0),(98,8.2),(99,6.2),(99,6.8),(99,7.6),(100,6.5),(100,7.1),(100,8.0),(101,6.3),(101,6.9),(102,6.6),(102,7.3),
    (102,8.6),(103,6.8),(103,7.5),(104,6.5),(104,7.1),(105,6.9),(105,7.6),(106,6.6),(106,7.2),(106,8.94),(107,6.9),(107,7.4),(108,6.7),(108,7.2),(108,8.0),(109,6.9),(109,7.6),(109,12.3),(110,6.5),(110,7.1),(110,7.8),
    (111,6.8),(111,7.3),(112,7.0),(112,7.5),(113,6.7),(113,7.2),(114,7.0),(114,7.6),(115,7.2),(115,6.9),(116,7.4),(116,6.8),(117,7.1),(117,7.6),(118,6.9),(118,7.5),(118,8.4),(119,7.2),(119,7.8),(120,6.8),(120,7.4),(120,8.1),
    (121,7.0),(121,7.6),(122,6.8),(122,7.2),(122,8.94),(123,7.0),(123,7.5),(124,6.9),(124,7.2),(127,8.94),(128,8.8),(130,8.38),(131,7.6),(131,6.94),(132,7.4),(133,7.6),(134,7.1),(135,7.4),(135,8.2),(136,6.94),
    (137,7.6),(138,7.3),(138,7.9),(139,6.5),(139,9.1),(140,7.4),(141,9.18),(142,8.2),(143,6.94),(143,8.0),(146,8.74),(147,7.68),(148,7.4),(150,7.58),(152,8.4),(154,8.64),(155,8.14),(153,7.9),(159,7.14),(167,7.38),(173,7.54),(175,7.3)]

# second pass over the dense parts of the blue band
projective_proj_more = [(6,3.1),(6,3.6),(6,4.1),(6,4.8),(7,3.3),(7,3.9),(7,4.5),(7,5.0),(8,3.0),(8,3.5),(8,4.0),(8,4.6),(9,3.2),(9,3.7),(9,4.3),(9,4.9),(10,3.1),(10,3.6),(10,4.1),(10,4.7),(11,3.4),(11,3.9),(11,4.5),(12,3.2),(12,3.7),(12,4.3),(12,4.9),
    (13,3.6),(13,4.1),(13,4.7),(14,3.4),(14,3.9),(14,4.5),(15,3.7),(15,4.2),(15,4.8),(16,3.5),(16,4.0),(16,4.6),(17,3.8),(17,4.3),(17,4.8),(18,3.6),(18,4.1),(18,4.7),(19,3.9),(19,4.4),(19,5.0),(21,3.7),(21,4.2),(21,4.7),(21,5.2),(23,4.2),(23,4.8),(24,3.9),(24,4.4),(24,5.0),
    (25,4.0),(25,4.7),(26,4.1),(26,4.7),(27,3.8),(27,4.4),(27,5.0),(28,4.0),(28,4.6),(28,5.2),(29,4.3),(29,4.9),(30,4.1),(30,4.7),(30,5.3),(31,4.4),(31,5.0),(32,4.2),(32,4.8),(33,4.5),(33,5.1),(34,4.6),(34,5.3),(35,4.8),(35,5.5),(36,4.3),(36,5.1),(36,5.8),(37,4.7),(37,5.4),
    (38,4.9),(38,5.7),(39,4.4),(39,5.2),(39,6.0),(40,4.8),(40,5.6),(41,5.1),(41,5.8),(42,4.8),(42,5.4),(43,4.7),(43,5.7),(44,4.9),(44,5.5),(44,6.2),(45,5.3),(45,5.9),(46,5.0),(46,5.6),(46,6.3),(47,5.4),(47,6.0),(47,6.5),(48,5.2),(48,5.8),(48,6.5),(49,5.5),(49,6.1),(50,5.3),(50,5.9),
    (50,6.6),(51,5.7),(51,6.3),(51,6.9),(52,5.4),(52,6.0),(52,6.8),(53,5.6),(53,6.2),(54,5.9),(54,6.5),(55,5.5),(55,6.2),(55,6.9),(56,5.8),(56,6.4),(57,5.5),(57,6.1),(57,6.7),(58,5.7),(58,6.3),(58,7.0),(59,6.0),(59,6.6),(60,5.6),(60,6.2),(60,6.8),(61,5.9),(61,6.5),(61,7.2),
    (62,5.7),(62,6.3),(62,6.9),(63,6.0),(63,6.6),(64,5.8),(64,6.4),(64,7.1),(65,6.1),(65,6.7),(66,5.7),(66,6.3),(66,7.0),(67,6.0),(67,6.6),(67,7.4),(68,5.8),(68,6.4),(68,7.1),(69,6.1),(69,6.7),(70,5.6),(70,6.2),(70,6.9),(70,7.4),(71,6.0),(71,6.6),(72,5.8),(72,6.4),(72,7.1),(73,6.2),
    (73,6.8),(74,6.0),(74,6.5),(74,7.3),(75,6.3),(75,6.9),(76,6.1),(76,6.7),(76,7.4),(77,6.4),(77,7.0),(78,6.2),(78,6.7),(78,7.4),(79,6.5),(79,7.1),(80,6.3),(80,6.9),(80,7.5),(81,6.6),(81,7.3),(82,6.2),(82,6.8),(82,7.3),(83,6.5),(83,7.1),(83,7.7),(84,6.3),(84,6.9),(84,7.6),(85,6.6),(85,7.2),
    (86,6.2),(86,6.8),(86,7.3),(87,6.4),(87,7.0),(87,7.8),(88,6.7),(88,7.3),(89,6.5),(89,7.1),(89,7.7),(90,6.8),(90,7.1),(91,6.6),(91,7.3),(91,7.9),(92,6.4),(92,6.9),(92,7.2),(93,6.7),(93,7.5),(93,8.0),(94,6.5),(94,7.1),(95,6.8),(95,7.6),(95,8.1),(96,6.6),(96,7.2),(97,6.9),(97,7.8),(98,6.7),
    (98,7.3),(99,7.1),(99,7.9),(100,6.8),(100,7.4),(101,7.2),(101,7.7),(102,6.9),(103,7.2),(103,7.9),(104,6.8),(104,7.4),(104,8.1),(105,7.3),(106,6.9),(106,7.6),(107,7.1),(107,7.8),(108,7.0),(108,7.5),(109,7.3),(110,6.9),(110,7.4),(111,7.1),(111,7.7),(112,6.9),(112,7.3),(113,7.5),
    (114,7.2),(115,7.5),(116,7.1),(117,7.3),(118,7.2),(119,7.5),(120,7.1),(121,7.3),(122,7.5),(123,7.3),(124,7.5),(126,7.4),(127,7.1),(129,7.3),(133,7.2),(134,7.8),(136,7.6),(137,7.3),(139,7.7),(141,7.3),(144,7.5)]


def rows_to_df(rows, *clouds):
    # rows is a list of (log value, x list), clouds are lists of (x, y)
    recs = [(x, lev) for lev, xs in rows for x in xs]
    for c in clouds:
        recs += list(c)
    return pd.DataFrame(recs, columns=["x", "y"])


sns.set_theme(style="white")
plt.rcParams["font.family"] = ["Liberation Sans", "DejaVu Sans"]
plt.rcParams["axes.formatter.use_mathtext"] = True

W, H = 1077, 545
fig = plt.figure(figsize=(W / 100, H / 100), dpi=100, facecolor="white")


def make_ax(x0, x1, y_top, y_bot):
    return fig.add_axes([x0 / W, 1 - y_bot / H, (x1 - x0) / W, (y_bot - y_top) / H])


def draw_panel(ax, red, blue, xlim, ylim, xticks, yticks):
    sns.scatterplot(data=red, x="x", y="y", marker="x", color="#ff0000", s=52, linewidth=0.85, clip_on=False, zorder=3, ax=ax)
    sns.scatterplot(data=blue, x="x", y="y", marker="+", color="#0000ff", s=72, linewidth=0.85, clip_on=False, zorder=4, ax=ax)
    ax.set_xlim(*xlim)
    ax.set_ylim(*ylim)
    ax.set_xticks(xticks)
    ax.set_yticks(yticks)
    ax.set_xlabel("")
    ax.set_ylabel("")
    ax.tick_params(direction="in", length=4, width=0.8, color="black", top=True, right=True, bottom=True, left=True,
                   labelsize=13.5, labelcolor="black", pad=7)
    ax.tick_params(axis="x", pad=9)
    for lab in ax.get_xticklabels():
        lab.set_transform(lab.get_transform() + ScaledTranslation(2 / 100, 0, fig.dpi_scale_trans))
    for s in ax.spines.values():
        s.set_visible(True)
        s.set_color("black")
        s.set_linewidth(1.0)


logical_df = rows_to_df([(2.30, logical_row_230), (3.00, logical_row_300), (3.40, logical_row_340),
                         (3.69, logical_row_369), (3.91, logical_row_391), (4.09, logical_row_409)], logical_cloud, logical_cloud_more)
logical_proj_df = rows_to_df([], logical_proj, logical_proj_more)
projective_df = rows_to_df([(0.0, projective_row_0), (0.69, projective_row_069), (2.30, projective_row_230), (3.00, projective_row_300),
                            (3.40, projective_row_340), (3.69, projective_row_369)], projective_cloud, projective_cloud_more)
projective_proj_df = rows_to_df([], projective_proj, projective_proj_more)

ax1 = make_ax(94.5, 511, 87, 387)
draw_panel(ax1, logical_df, logical_proj_df, (0, 500), (2, 14), np.arange(0, 501, 50), np.arange(2, 15, 2))
ax2 = make_ax(626, 1042, 87, 387)
draw_panel(ax2, projective_df, projective_proj_df, (0, 180), (0, 18), np.arange(0, 181, 20), np.arange(0, 19, 2))

# outer box of the page, only top and left are visible
frame_col = "#777777"
fig.add_artist(Line2D([10.5 / W, 10.5 / W, 1], [0, 1 - 11.5 / H, 1 - 11.5 / H], color=frame_col, lw=1.0, transform=fig.transFigure))

txt_col = "#333333"
fs = 21
fig.text(66 / W, 1 - 54 / H, "Logical updates and projection", family="cmr10", fontsize=fs, color=txt_col, va="baseline")
fig.text(601 / W, 1 - 54 / H, "Projective updates and projection", family="cmr10", fontsize=fs, color=txt_col, va="baseline")
fig.text(112 / W, 1 - 461 / H, "Logical updates:", family="cmr10", fontsize=fs, color=txt_col, va="baseline")
fig.text(112 / W, 1 - 497 / H, "Projection:", family="cmr10", fontsize=fs, color=txt_col, va="baseline")
fig.text(707 / W, 1 - 461 / H, "Projective updates:", family="cmr10", fontsize=fs, color=txt_col, va="baseline")
fig.text(707 / W, 1 - 497 / H, "Projection:", family="cmr10", fontsize=fs, color=txt_col, va="baseline")
fig.text(246 / W, 1 - 537 / H, "The numbers in vertical axes are logarithmized.", family="cmr10", fontsize=fs, color=txt_col, va="baseline")

for px, py, mk, col in [(344, 453, "x", "#ff0000"), (276, 488, "+", "#0000ff"), (977, 453, "x", "#ff0000"), (871, 488, "+", "#0000ff")]:
    fig.add_artist(Line2D([px / W], [1 - py / H], marker=mk, color=col, ms=12, mew=0.9, ls="none", transform=fig.transFigure))

fig.savefig("out.png", dpi=100)
